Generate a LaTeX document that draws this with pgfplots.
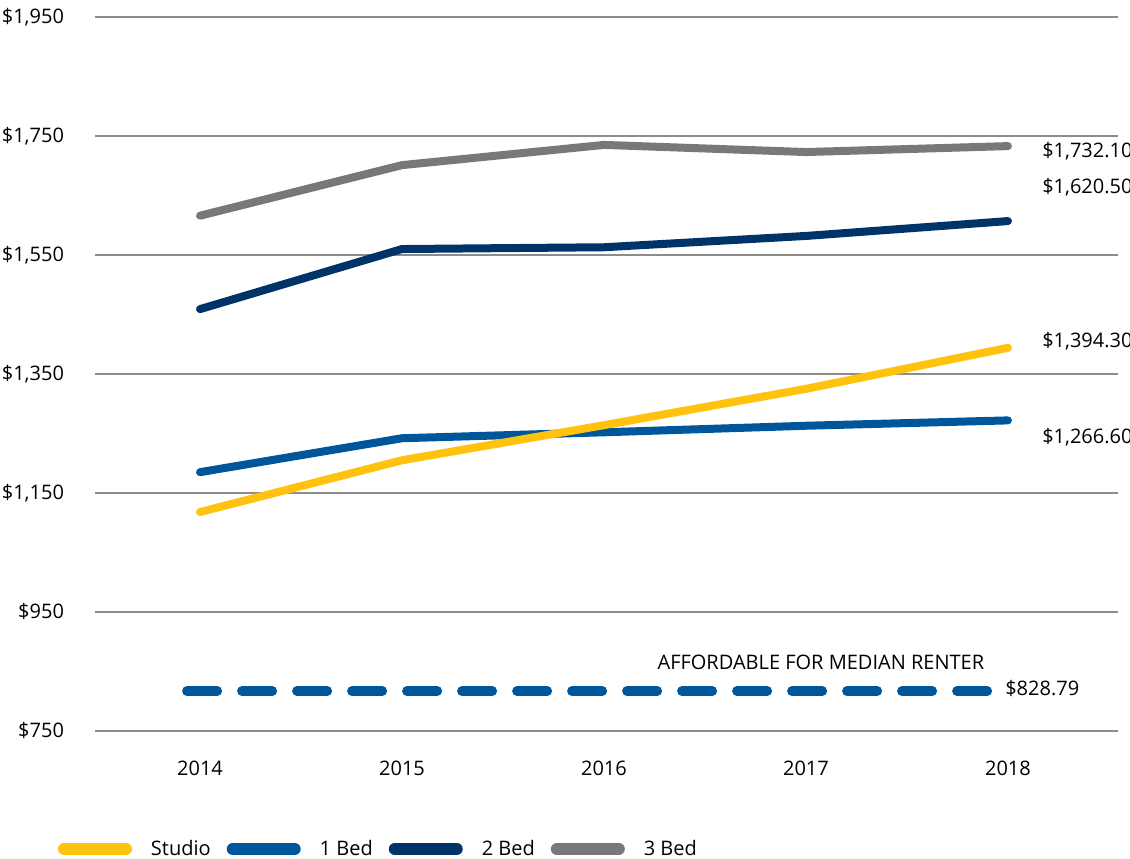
\documentclass[border=0pt]{standalone}
\usepackage{fontspec}
\setmainfont{Open Sans}
\usepackage{pgfplots}
\pgfplotsset{compat=1.18}
\definecolor{cStudio}{HTML}{FFC20E}
\definecolor{cOne}{HTML}{00569A}
\definecolor{cTwo}{HTML}{003468}
\definecolor{cThree}{HTML}{77787B}
\definecolor{cGrid}{HTML}{8C8C8C}
\begin{document}
\begin{tikzpicture}[font=\fontsize{10}{12}\selectfont]
\begin{axis}[
  name=main,
  scale only axis,
  width=511.5pt, height=357pt,
  xmin=2013.48, xmax=2018.545,
  ymin=750, ymax=1950,
  axis line style={draw=none},
  major tick length=0pt,
  xtick={2014,2015,2016,2017,2018},
  xticklabels={2014,2015,2016,2017,2018},
  ytick={750,950,1150,1350,1550,1750,1950},
  yticklabels={\$750,\$950,{\$1,150},{\$1,350},{\$1,550},{\$1,750},{\$1,950}},
  yticklabel style={xshift=-12pt},
  xticklabel style={yshift=-11.5pt},
  ymajorgrids,
  grid style={cGrid, line width=0.8pt},
  clip=false,
  every axis plot/.append style={line cap=round, line join=round, line width=4pt},
  legend columns=4,
  legend style={at={(axis description cs:0,0)}, anchor=west, xshift=-18.5pt, yshift=-59pt,
    draw=none, fill=none, inner sep=0pt, outer sep=0pt,
    /tikz/every odd column/.append style={column sep=7.5pt},
    /tikz/every even column/.append style={column sep=6pt}},
  legend image code/.code={\draw[#1, line width=6pt, line cap=round] (0pt,0pt) -- (31pt,0pt);},
]
\addlegendimage{cStudio}
\addlegendentry{Studio}
\addlegendimage{cOne}
\addlegendentry{1 Bed}
\addlegendimage{cTwo}
\addlegendentry{2 Bed}
\addlegendimage{cThree}
\addlegendentry{3 Bed}
\addplot[cThree, forget plot] coordinates {(2014,1616) (2015,1701) (2016,1735) (2017,1723) (2018,1733)};
\addplot[cTwo, forget plot] coordinates {(2014,1459) (2015,1560) (2016,1563) (2017,1582) (2018,1607)};
\addplot[cOne, forget plot] coordinates {(2014,1185) (2015,1242) (2016,1252) (2017,1263) (2018,1272)};
\addplot[cStudio, forget plot] coordinates {(2014,1118) (2015,1205) (2016,1264) (2017,1325) (2018,1394)};
\addplot[cOne, line width=4.8pt, dash pattern=on 15.2pt off 12.3pt, forget plot] coordinates {(2013.935,817) (2017.93,817)};
\node[anchor=west, inner sep=0pt] at (axis cs:2018.168,1724.8) {\$1,732.10};
\node[anchor=west, inner sep=0pt] at (axis cs:2018.168,1664.3) {\$1,620.50};
\node[anchor=west, inner sep=0pt] at (axis cs:2018.168,1405.5) {\$1,394.30};
\node[anchor=west, inner sep=0pt] at (axis cs:2018.168,1244.1) {\$1,266.60};
\node[anchor=west, inner sep=0pt] at (axis cs:2017.985,820.6) {\$828.79};
\node at (axis cs:2017.074,866) {AFFORDABLE FOR MEDIAN RENTER};
\end{axis}
\pgfresetboundingbox
\path[use as bounding box] ([xshift=-47.5pt,yshift=-64pt]main.south west) rectangle ([xshift=6pt,yshift=8.5pt]main.north east);
\end{tikzpicture}
\end{document}
